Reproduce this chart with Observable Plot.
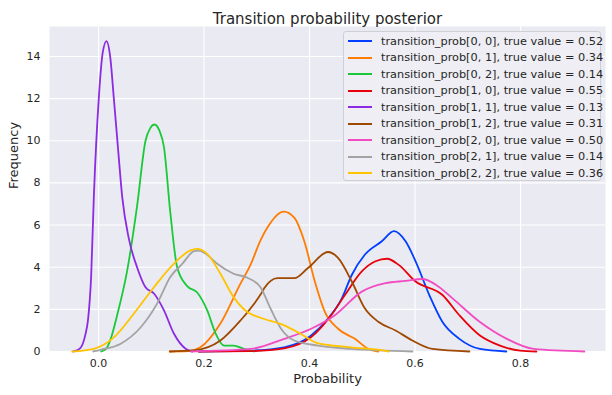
<!DOCTYPE html>
<html><head><meta charset="utf-8">
<script src="https://cdn.jsdelivr.net/npm/d3@7"></script>
<script src="https://cdn.jsdelivr.net/npm/@observablehq/plot@0.6"></script>
<style>
html,body{margin:0;padding:0;background:#fff;}
#wrap{position:relative;width:612px;height:395px;font-family:"DejaVu Sans",sans-serif;}
#legend{position:absolute;left:343px;top:31px;width:258px;height:150px;background:rgba(238,238,244,0.9);border:1px solid #cfcfd6;border-radius:3px;box-sizing:border-box;}
.row{position:absolute;left:0;height:16px;display:flex;align-items:center;font-size:11.3px;color:#262626;white-space:nowrap;}
.sw{width:24px;height:0;border-top:2px solid;margin-left:4px;margin-right:9px;}
</style></head>
<body><div id="wrap"></div>
<script>
const seriesNames = ["transition_prob[0, 0]","transition_prob[0, 1]","transition_prob[0, 2]","transition_prob[1, 0]","transition_prob[1, 1]","transition_prob[1, 2]","transition_prob[2, 0]","transition_prob[2, 1]","transition_prob[2, 2]"];
const trueValues = ["0.52","0.34","0.14","0.55","0.13","0.31","0.50","0.14","0.36"];
const colors = ["#023eff","#ff7c00","#1ac938","#e8000b","#8b2be2","#9f4800","#f14cc1","#a3a3a3","#ffc400"];
const xTicks = [0,0.2,0.4,0.6,0.8];
const yTicks = [0,2,4,6,8,10,12,14];

const x00 = [0.19,0.288,0.352,0.403,0.435,0.461,0.48,0.505,0.537,0.56,0.582,0.601,0.627,0.652,0.684,0.723,0.773];
const y00 = [0,0.04,0.2,0.76,1.56,2.51,3.63,4.6,5.23,5.71,5.23,4.28,2.68,1.4,0.6,0.12,0];
const x01 = [0.135,0.17,0.193,0.231,0.269,0.288,0.307,0.32,0.351,0.371,0.39,0.41,0.429,0.454,0.486,0.512,0.53];
const y01 = [0,0.02,0.2,1.33,3.22,4.11,5.27,5.88,6.64,6.35,5.23,3.32,1.88,1.08,0.6,0.12,0];
const x02 = [0.005,0.015,0.023,0.035,0.054,0.073,0.089,0.098,0.106,0.115,0.124,0.136,0.149,0.168,0.187,0.206,0.222,0.238,0.256,0.275,0.295];
const y02 = [0,0.15,0.6,1.7,3.8,6.9,10.0,10.6,10.77,10.5,9.7,6.6,4.0,3.1,2.8,1.95,0.85,0.28,0.28,0.13,0];
const x10 = [0.19,0.288,0.352,0.403,0.441,0.467,0.499,0.525,0.547,0.569,0.601,0.652,0.684,0.723,0.761,0.799,0.83];
const y10 = [0,0.02,0.15,0.68,1.72,2.68,3.8,4.28,4.4,4.11,3.32,2.68,1.72,0.76,0.28,0.04,0];
const x11 = [-0.048,-0.035,-0.025,-0.02,-0.014,-0.009,0.0006,0.008,0.015,0.022,0.029,0.037,0.045,0.057,0.073,0.089,0.105,0.124,0.143,0.165,0.178];
const y11 = [0,0.15,0.8,1.5,3.6,7.3,12.07,14.2,14.73,14.0,12.0,9.6,7.3,5.4,4.0,3.05,2.75,1.95,0.84,0.13,0];
const x12 = [0.135,0.18,0.231,0.269,0.288,0.307,0.314,0.339,0.371,0.397,0.435,0.454,0.48,0.505,0.531,0.563,0.595,0.633,0.703];
const y12 = [0,0.05,0.52,1.47,2.04,2.7,3.0,3.48,3.48,3.96,4.72,4.44,3.32,2.04,1.4,1.0,0.52,0.12,0];
const x20 = [0.175,0.288,0.352,0.403,0.448,0.499,0.544,0.582,0.614,0.64,0.671,0.723,0.774,0.825,0.921];
const y20 = [0,0.12,0.6,1.08,1.72,2.84,3.24,3.35,3.44,3.16,2.52,1.4,0.6,0.12,0];
const x21 = [-0.01,0.004,0.042,0.08,0.111,0.136,0.159,0.181,0.19,0.205,0.225,0.256,0.282,0.307,0.326,0.346,0.371,0.416,0.48,0.595];
const y21 = [0,0.08,0.37,1.15,2.27,3.53,4.17,4.76,4.79,4.6,4.16,3.69,3.5,3.05,2.04,1.08,0.52,0.28,0.12,0];
const x22 = [-0.05,-0.009,0.029,0.067,0.105,0.143,0.174,0.187,0.206,0.231,0.256,0.282,0.307,0.352,0.383,0.415,0.478,0.54,0.55];
const y22 = [0,0.13,0.67,1.8,3.05,4.17,4.8,4.87,4.63,3.69,2.58,1.87,1.6,1.24,0.84,0.4,0.2,0.05,0];

const xs = [x00,x01,x02,x10,x11,x12,x20,x21,x22];
const ys = [y00,y01,y02,y10,y11,y12,y20,y21,y22];
const rows = [];
seriesNames.forEach((n,i)=>xs[i].forEach((x,j)=>rows.push({name:n,x,y:ys[i][j]})));

const font = "DejaVu Sans";
const chart = Plot.plot({
  width:612, height:395,
  marginLeft:49, marginRight:7, marginTop:26, marginBottom:44,
  style:{fontFamily:font, fontSize:"11px", color:"#262626", background:"#fff"},
  x:{domain:[-0.093,0.961]},
  y:{domain:[0,15.42]},
  color:{domain:seriesNames, range:colors},
  marks:[
    Plot.frame({fill:"#eaeaf2", stroke:null}),
    Plot.gridX(xTicks,{stroke:"white", strokeOpacity:1, strokeWidth:1.1}),
    Plot.gridY(yTicks,{stroke:"white", strokeOpacity:1, strokeWidth:1.1}),
    Plot.line(rows,{x:"x", y:"y", z:"name", stroke:"name", curve:"monotone-x", strokeWidth:1.8}),
    Plot.axisX(xTicks,{tickSize:0, tickPadding:8, tickFormat:d3.format(".1f"), label:null, fontSize:11}),
    Plot.axisY(yTicks,{tickSize:0, tickPadding:9, label:null, fontSize:11}),
    Plot.text(["Transition probability posterior"],{frameAnchor:"top", dy:-13, fontSize:15, fill:"#262626"}),
    Plot.text(["Probability"],{frameAnchor:"bottom", dy:31, fontSize:13, fill:"#262626"}),
    Plot.text(["Frequency"],{frameAnchor:"left", dx:-36, rotate:-90, fontSize:13, fill:"#262626"})
  ]
});
const wrap = document.getElementById("wrap");
wrap.appendChild(chart);
const leg = document.createElement("div");
leg.id = "legend";
seriesNames.forEach((n,i)=>{
  const r = document.createElement("div");
  r.className = "row";
  r.style.top = (1 + i*16.55) + "px";
  const s = document.createElement("div");
  s.className = "sw"; s.style.borderTopColor = colors[i];
  const t = document.createElement("span");
  t.textContent = `${n}, true value = ${trueValues[i]}`;
  r.appendChild(s); r.appendChild(t);
  leg.appendChild(r);
});
wrap.appendChild(leg);
</script></body></html>
